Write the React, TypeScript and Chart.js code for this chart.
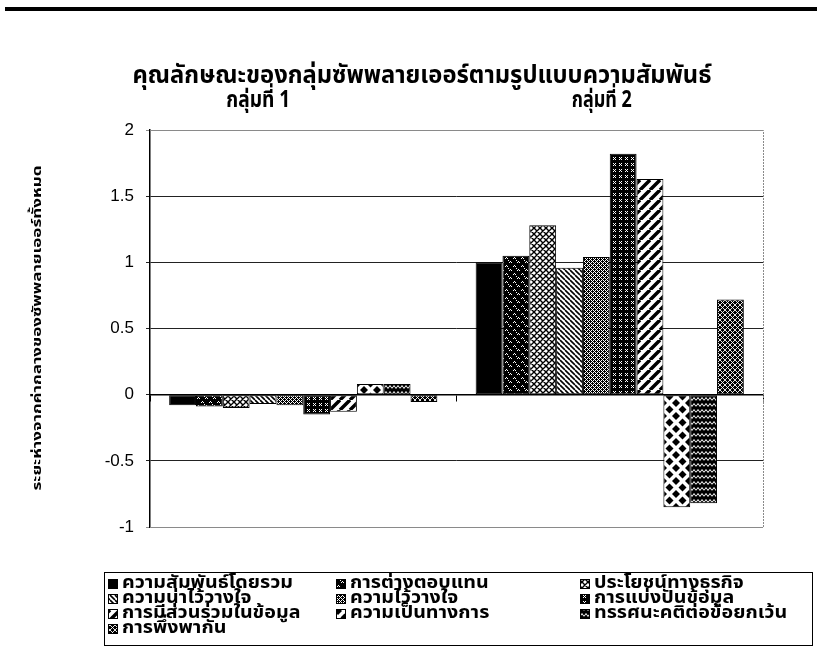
import React, { useEffect, useRef } from 'react';
import { Chart, registerables } from 'chart.js';

Chart.register(...registerables);

const chartTitle = 'คุณลักษณะของกลุ่มซัพพลายเออร์ตามรูปแบบความสัมพันธ์';
const yAxisTitle = 'ระยะห่างจากค่ากลางของซัพพลายเออร์ทั้งหมด';
const categories = ['กลุ่มที่ 1', 'กลุ่มที่ 2'];
const seriesNames = [
  'ความสัมพันธ์โดยรวม',
  'การต่างตอบแทน',
  'ประโยชน์ทางธุรกิจ',
  'ความน่าไว้วางใจ',
  'ความไว้วางใจ',
  'การแบ่งปันข้อมูล',
  'การมีส่วนร่วมในข้อมูล',
  'ความเป็นทางการ',
  'ทรรศนะคติต่อข้อยกเว้น',
  'การพึ่งพากัน',
];
const group1Values = [-0.08, -0.09, -0.1, -0.07, -0.08, -0.15, -0.13, 0.08, 0.08, -0.055];
const group2Values = [1.0, 1.05, 1.28, 0.96, 1.04, 1.82, 1.63, -0.85, -0.82, 0.72];
const yTicks = [-1, -0.5, 0, 0.5, 1, 1.5, 2];

const THAI = "'Noto Sans Thai', 'Noto Sans Thai UI', 'Noto Sans', 'DejaVu Sans', sans-serif";

function makePattern(w: number, h: number, draw: (c: CanvasRenderingContext2D) => void): CanvasPattern | string {
  const cv = document.createElement('canvas');
  cv.width = w;
  cv.height = h;
  const c = cv.getContext('2d');
  if (!c) return '#000';
  draw(c);
  return c.createPattern(cv, 'repeat') || '#000';
}

function px(c: CanvasRenderingContext2D, pts: number[][], color: string) {
  c.fillStyle = color;
  pts.forEach(([x, y]) => c.fillRect(x, y, 1, 1));
}

function buildPatterns(): (CanvasPattern | string)[] {
  const p1 = '#000';
  const p2 = makePattern(8, 8, (c) => {
    c.fillStyle = '#000';
    c.fillRect(0, 0, 8, 8);
    px(c, [[1, 2], [2, 1], [3, 2], [5, 6], [6, 5], [7, 6], [4, 4]], '#fff');
  });
  const p3 = makePattern(6, 6, (c) => {
    c.fillStyle = '#fff';
    c.fillRect(0, 0, 6, 6);
    c.strokeStyle = '#000';
    c.lineWidth = 1.4;
    c.beginPath();
    for (const k of [-6, 0, 6]) {
      c.moveTo(k, 0); c.lineTo(k + 6, 6);
      c.moveTo(k, 6); c.lineTo(k + 6, 0);
    }
    c.stroke();
  });
  const p4 = makePattern(5, 5, (c) => {
    c.fillStyle = '#fff';
    c.fillRect(0, 0, 5, 5);
    c.strokeStyle = '#000';
    c.lineWidth = 1.6;
    c.beginPath();
    for (const k of [-5, 0, 5]) {
      c.moveTo(k, 0); c.lineTo(k + 5, 5);
    }
    c.stroke();
  });
  const p5 = makePattern(4, 4, (c) => {
    c.fillStyle = '#fff';
    c.fillRect(0, 0, 4, 4);
    px(c, [[0, 0], [2, 0], [1, 1], [2, 1], [3, 1], [0, 2], [2, 2], [0, 3], [1, 3], [3, 3]], '#000');
  });
  const p6 = makePattern(6, 6, (c) => {
    c.fillStyle = '#000';
    c.fillRect(0, 0, 6, 6);
    px(c, [[1, 1], [3, 1], [2, 2], [1, 3], [3, 3]], '#fff');
  });
  const p7 = makePattern(10, 10, (c) => {
    c.fillStyle = '#fff';
    c.fillRect(0, 0, 10, 10);
    c.strokeStyle = '#000';
    c.lineWidth = 3.5;
    c.beginPath();
    for (const k of [-10, 0, 10]) {
      c.moveTo(k, 10); c.lineTo(k + 10, 0);
    }
    c.stroke();
  });
  const p8 = makePattern(13, 13, (c) => {
    c.fillStyle = '#fff';
    c.fillRect(0, 0, 13, 13);
    c.fillStyle = '#000';
    const dia = (cx: number, cy: number, r: number) => {
      c.beginPath();
      c.moveTo(cx, cy - r); c.lineTo(cx + r, cy); c.lineTo(cx, cy + r); c.lineTo(cx - r, cy);
      c.closePath();
      c.fill();
    };
    dia(6.5, 6.5, 4);
    dia(0, 0, 4); dia(13, 0, 4); dia(0, 13, 4); dia(13, 13, 4);
  });
  const p9 = makePattern(8, 6, (c) => {
    c.fillStyle = '#000';
    c.fillRect(0, 0, 8, 6);
    c.strokeStyle = '#fff';
    c.lineWidth = 1;
    c.beginPath();
    c.moveTo(0, 4.5); c.lineTo(2, 1.5); c.lineTo(4, 4.5); c.lineTo(6, 1.5); c.lineTo(8, 4.5);
    c.stroke();
  });
  const p10 = makePattern(5, 5, (c) => {
    c.fillStyle = '#000';
    c.fillRect(0, 0, 5, 5);
    c.strokeStyle = '#fff';
    c.lineWidth = 0.9;
    c.beginPath();
    for (const k of [-5, 0, 5]) {
      c.moveTo(k, 0); c.lineTo(k + 5, 5);
      c.moveTo(k, 5); c.lineTo(k + 5, 0);
    }
    c.stroke();
  });
  return [p1, p2, p3, p4, p5, p6, p7, p8, p9, p10];
}

function drawFitted(
  ctx: CanvasRenderingContext2D,
  text: string,
  x: number,
  y: number,
  font: string,
  targetWidth: number,
  align: CanvasTextAlign,
  rotate = 0
) {
  ctx.save();
  ctx.font = font;
  const w = ctx.measureText(text).width || 1;
  const sx = targetWidth / w;
  ctx.translate(x, y);
  if (rotate) ctx.rotate(rotate);
  ctx.scale(sx, 1);
  ctx.textAlign = align;
  ctx.textBaseline = 'middle';
  ctx.fillStyle = '#000';
  ctx.fillText(text, 0, 0);
  ctx.restore();
}

const decorPlugin = {
  id: 'decor',
  beforeDatasetsDraw(chart: any) {
    const { ctx, chartArea: a } = chart;
    ctx.save();
    ctx.strokeStyle = '#8a8a8a';
    ctx.lineWidth = 1;
    ctx.setLineDash([2, 1]);
    ctx.beginPath();
    ctx.moveTo(a.left, a.top + 0.5);
    ctx.lineTo(a.right + 0.5, a.top + 0.5);
    ctx.lineTo(a.right + 0.5, a.bottom + 0.5);
    ctx.lineTo(a.left, a.bottom + 0.5);
    ctx.stroke();
    ctx.restore();
  },
  afterDraw(chart: any) {
    const { ctx } = chart;
    const xs = chart.scales.x;
    // top rule
    ctx.save();
    ctx.fillStyle = '#000';
    ctx.fillRect(5, 7, 812, 4);
    ctx.restore();

    // title
    drawFitted(ctx, chartTitle, 422, 78, `bold 25px ${THAI}`, 579, 'center');
    // group labels
    const shifts = [-45, -8];
    const widths = [64, 60];
    categories.forEach((c, i) => {
      drawFitted(ctx, c, xs.getPixelForValue(i) + shifts[i], 102, `bold 23px ${THAI}`, widths[i], 'center');
    });
    // y title
    drawFitted(ctx, yAxisTitle, 38, 328, `bold 13px ${THAI}`, 325, 'center', -Math.PI / 2);

    // legend
    const lx = 104, ly = 572, lw = 708, lh = 73;
    ctx.save();
    ctx.strokeStyle = '#000';
    ctx.lineWidth = 1;
    ctx.strokeRect(lx + 0.5, ly + 0.5, lw, lh);
    ctx.restore();
    const cols = [108, 336, 580];
    const rowY = [584, 599, 614, 629];
    const font = `bold 18px ${THAI}`;
    ctx.save();
    ctx.font = font;
    const ref = ctx.measureText(seriesNames[0]).width || 1;
    const sx = 171 / ref;
    ctx.restore();
    chart.data.datasets.forEach((ds: any, i: number) => {
      const cx = cols[i % 3];
      const cy = rowY[Math.floor(i / 3)];
      ctx.save();
      ctx.fillStyle = ds.backgroundColor;
      ctx.fillRect(cx, cy - 5, 10, 10);
      ctx.strokeStyle = '#000';
      ctx.lineWidth = 1;
      ctx.strokeRect(cx + 0.5, cy - 4.5, 9, 9);
      ctx.restore();
      ctx.save();
      ctx.font = font;
      const w = ctx.measureText(ds.label).width;
      ctx.restore();
      drawFitted(ctx, ds.label, cx + 14, cy, font, w * sx, 'left');
    });
  },
};

export default function App() {
  const ref = useRef<HTMLCanvasElement | null>(null);
  useEffect(() => {
    if (!ref.current) return;
    const patterns = buildPatterns();
    const datasets = seriesNames.map((name, i) => ({
      label: name,
      data: [group1Values[i], group2Values[i]],
      backgroundColor: patterns[i],
      borderColor: '#000',
      borderWidth: 1,
      borderSkipped: false,
      barPercentage: 1,
      categoryPercentage: 0.875,
    }));
    const chart = new Chart(ref.current, {
      type: 'bar',
      data: { labels: categories, datasets },
      options: {
        animation: false,
        responsive: false,
        devicePixelRatio: 1,
        layout: { padding: { top: 130, bottom: 121, left: 0, right: 54 } },
        plugins: {
          legend: { display: false },
          tooltip: { enabled: false },
          title: { display: false },
        },
        scales: {
          x: {
            type: 'category',
            position: { y: 0 } as any,
            offset: true,
            ticks: { display: false },
            grid: { drawOnChartArea: false, offset: true, tickLength: 6, color: '#000' },
            border: { display: true, color: '#000', width: 1.5 },
          },
          y: {
            min: -1,
            max: 2,
            afterBuildTicks: (scale: any) => {
              scale.ticks = yTicks.map((v) => ({ value: v }));
            },
            afterFit: (scale: any) => {
              scale.width = 150;
            },
            ticks: {
              color: '#000',
              padding: 12,
              font: { family: "Arial, 'Liberation Sans', sans-serif", size: 17 },
              callback: (v: any) => String(v),
            },
            grid: {
              color: (ctx: any) => (ctx.tick && (ctx.tick.value === 2 || ctx.tick.value === -1) ? '#8a8a8a' : '#222'),
              tickLength: 4,
              lineWidth: 1,
            },
            border: { display: true, color: '#000', width: 1.5 },
          },
        },
      },
      plugins: [decorPlugin],
    });
    return () => chart.destroy();
  }, []);
  return (
    <div style={{ position: 'absolute', left: 0, top: 0, width: 817, height: 648 }}>
      <canvas ref={ref} width={817} height={648} style={{ width: 817, height: 648, display: 'block' }} />
    </div>
  );
}
